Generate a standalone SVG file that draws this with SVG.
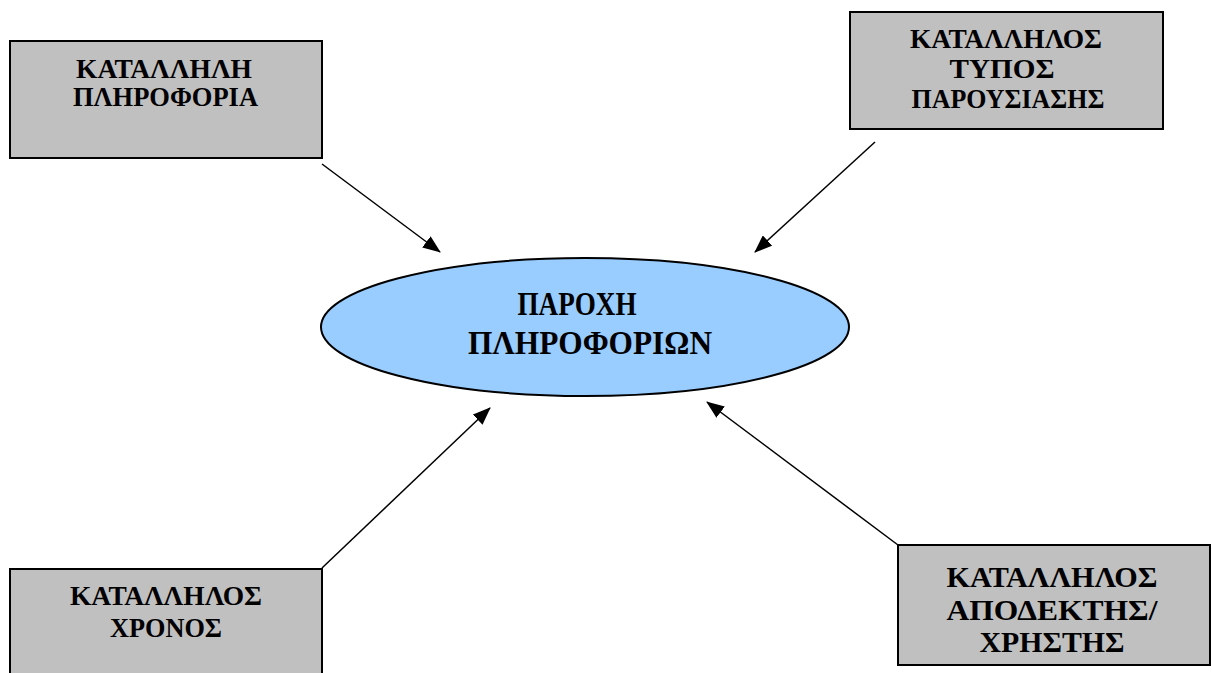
<svg xmlns="http://www.w3.org/2000/svg" width="1212" height="673" viewBox="0 0 1212 673">
<style>
.box{fill:#c0c0c0;stroke:#000;stroke-width:2}
.t{font-family:"Liberation Serif","DejaVu Serif",serif;font-weight:bold;fill:#000;text-anchor:middle}
.c{stroke:#000;stroke-width:1.5;fill:none;marker-end:url(#ah)}
</style>
<defs>
<marker id="ah" markerWidth="18" markerHeight="14" refX="17" refY="7" orient="auto" markerUnits="userSpaceOnUse">
<path d="M0,0 L18,7 L0,14 z" fill="#000"/>
</marker>
</defs>
<rect width="1212" height="673" fill="#fff"/>
<g id="connectors">
<line class="c" x1="322" y1="164" x2="440" y2="252"/>
<line class="c" x1="875" y1="142" x2="755" y2="252"/>
<line class="c" x1="322" y1="568" x2="490" y2="408"/>
<line class="c" x1="898" y1="545" x2="707" y2="402"/>
</g>
<g id="center">
<ellipse cx="585" cy="327" rx="264" ry="69" fill="#99ccff" stroke="#000" stroke-width="2"/>
<text class="t" x="577" y="315" font-size="33" textLength="119" lengthAdjust="spacingAndGlyphs">ΠΑΡΟΧΗ</text>
<text class="t" x="590" y="354" font-size="33" textLength="244" lengthAdjust="spacingAndGlyphs">ΠΛΗΡΟΦΟΡΙΩΝ</text>
</g>
<g id="info">
<rect class="box" x="10" y="41" width="312" height="117"/>
<text class="t" x="164" y="78" font-size="27" textLength="176" lengthAdjust="spacingAndGlyphs">ΚΑΤΑΛΛΗΛΗ</text>
<text class="t" x="165.5" y="106" font-size="27" textLength="185" lengthAdjust="spacingAndGlyphs">ΠΛΗΡΟΦΟΡΙΑ</text>
</g>
<g id="type">
<rect class="box" x="850" y="12" width="313" height="117"/>
<text class="t" x="1006" y="48" font-size="27" textLength="192" lengthAdjust="spacingAndGlyphs">ΚΑΤΑΛΛΗΛΟΣ</text>
<text class="t" x="1002" y="78" font-size="27" textLength="105" lengthAdjust="spacingAndGlyphs">ΤΥΠΟΣ</text>
<text class="t" x="1008" y="108" font-size="27" textLength="193" lengthAdjust="spacingAndGlyphs">ΠΑΡΟΥΣΙΑΣΗΣ</text>
</g>
<g id="time">
<rect class="box" x="10" y="569" width="312" height="120"/>
<text class="t" x="166" y="605" font-size="27" textLength="192" lengthAdjust="spacingAndGlyphs">ΚΑΤΑΛΛΗΛΟΣ</text>
<text class="t" x="166" y="637" font-size="27" textLength="112" lengthAdjust="spacingAndGlyphs">ΧΡΟΝΟΣ</text>
</g>
<g id="user">
<rect class="box" x="898" y="545" width="312" height="120"/>
<text class="t" x="1052" y="587" font-size="30" textLength="211" lengthAdjust="spacingAndGlyphs">ΚΑΤΑΛΛΗΛΟΣ</text>
<text class="t" x="1052" y="620" font-size="30" textLength="211" lengthAdjust="spacingAndGlyphs">ΑΠΟΔΕΚΤΗΣ/</text>
<text class="t" x="1052" y="652" font-size="30" textLength="145" lengthAdjust="spacingAndGlyphs">ΧΡΗΣΤΗΣ</text>
</g>
</svg>
